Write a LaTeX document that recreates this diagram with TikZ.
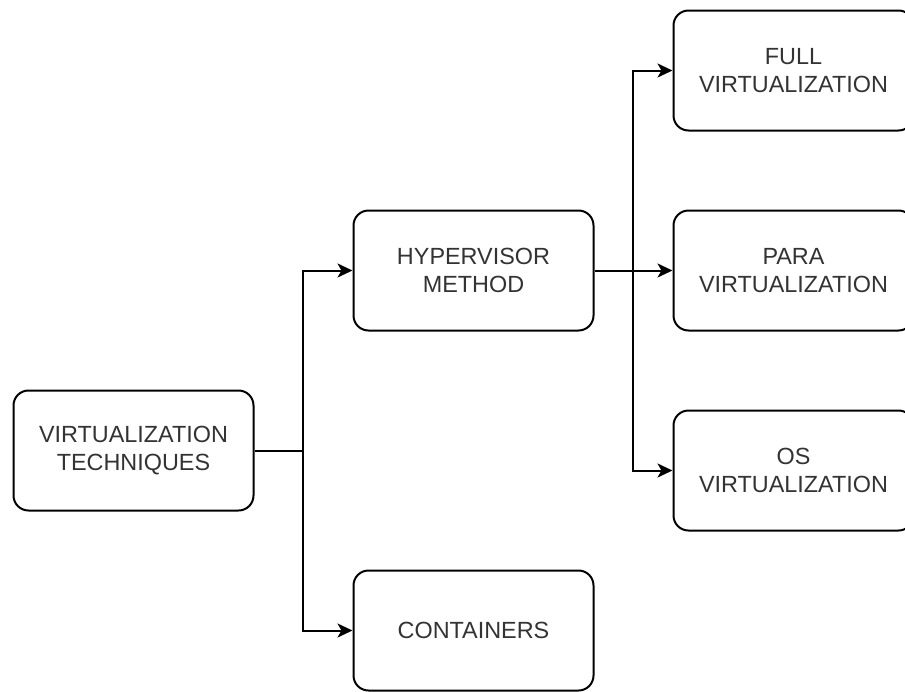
\documentclass[tikz,border=0pt]{standalone}
\usepackage{fontspec}
\setmainfont{Liberation Sans}
\usetikzlibrary{arrows.meta}
\definecolor{txt}{HTML}{333333}
\tikzset{
  box/.style={draw=black, line width=2pt, rounded corners=15pt, minimum width=240pt, minimum height=120pt,
    align=center, text=txt, font=\fontsize{23.4}{27.7}\selectfont, inner sep=0pt},
  conn/.style={draw=black, line width=2pt},
  arr/.style={conn, -{Stealth[length=15pt,width=14pt,inset=4pt]}}
}
\begin{document}
\begin{tikzpicture}[x=1pt,y=-1pt]
\clip (0,0) rectangle (905,691);
\fill[white] (0,0) rectangle (905,691);
\node[box] (vt) at (133.5,450.5) {VIRTUALIZATION\\TECHNIQUES};
\node[box] (hm) at (473.5,270.5) {HYPERVISOR\\METHOD};
\node[box] (ct) at (473.5,630.5) {CONTAINERS};
\node[box] (full) at (793.5,70.5) {FULL\\VIRTUALIZATION};
\node[box] (para) at (793.5,270.5) {PARA\\VIRTUALIZATION};
\node[box] (os) at (793.5,470.5) {OS\\VIRTUALIZATION};
\coordinate (j1) at (303,450.5);
\coordinate (j2) at (633,270.5);
\draw[conn] (vt.east) -- (j1);
\draw[arr] (j1) |- (hm.west);
\draw[arr] (j1) |- (ct.west);
\draw[conn] (hm.east) -- (j2);
\draw[arr] (j2) |- (full.west);
\draw[arr] (j2) -- (para.west);
\draw[arr] (j2) |- (os.west);
\end{tikzpicture}
\end{document}
